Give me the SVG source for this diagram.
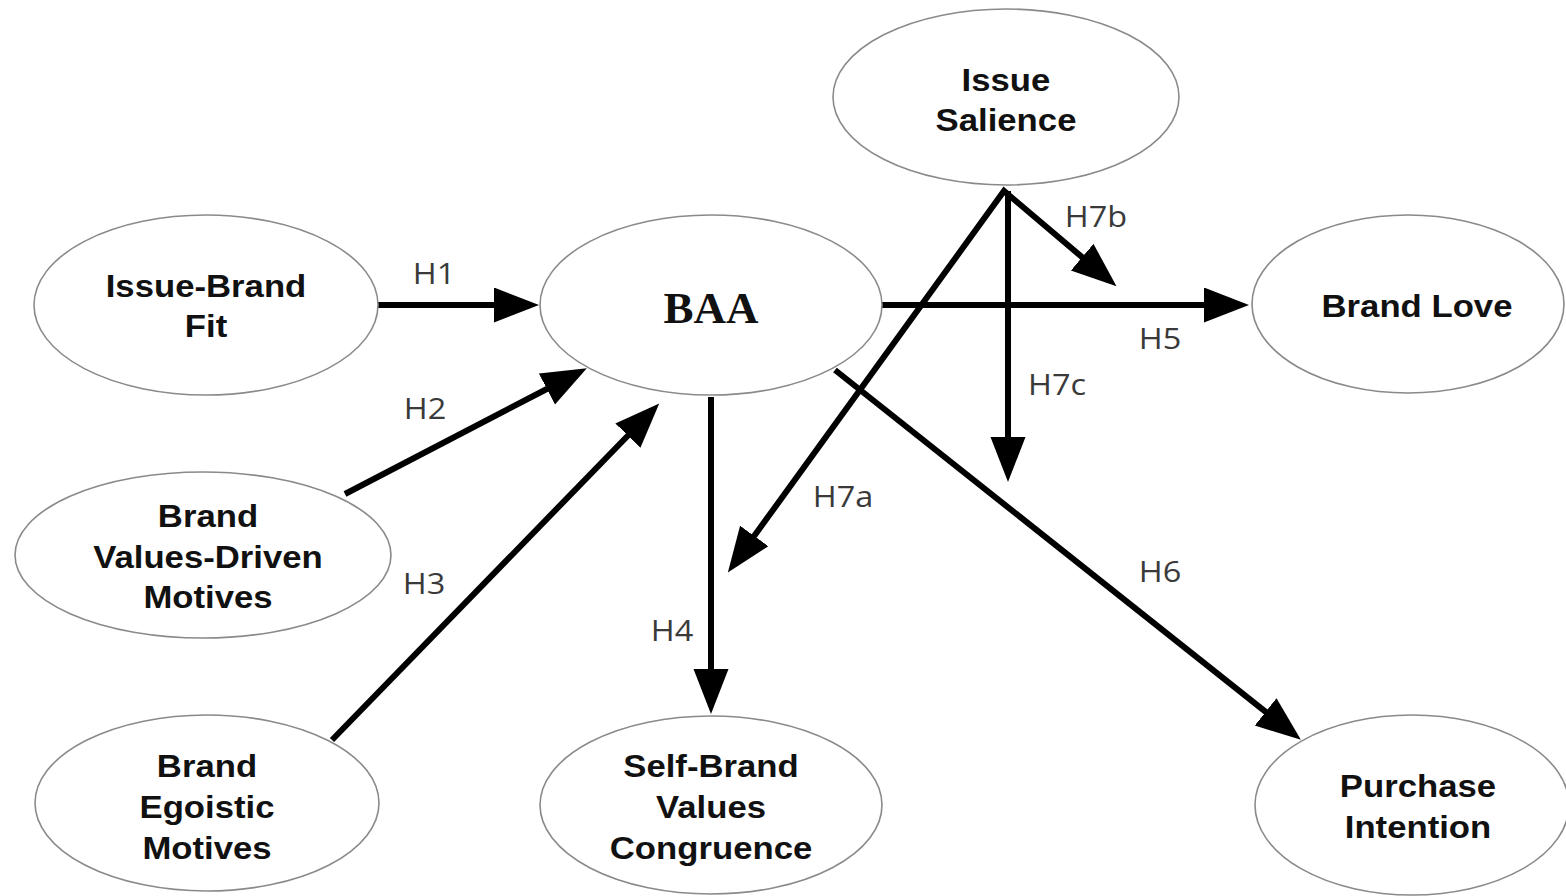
<svg xmlns="http://www.w3.org/2000/svg" width="1566" height="896" viewBox="0 0 1566 896">
<defs>
<style>
.node ellipse{fill:#fff;stroke:#8a8a8a;stroke-width:1.6}
.nt{font-family:"Liberation Sans",Arial,sans-serif;font-weight:bold;font-size:31px;fill:#111;text-anchor:middle}
.baa{font-family:"Liberation Serif","Times New Roman",serif;font-weight:bold;font-size:45px;fill:#111;text-anchor:middle}
.lbl{font-family:"Open Sans","DejaVu Sans",sans-serif;font-size:29px;fill:#3a3a3a;text-anchor:middle}
.edge{stroke:#000;stroke-width:6;fill:none;marker-end:url(#ah)}
.both{stroke:#000;stroke-width:6;fill:none;stroke-linejoin:miter;marker-start:url(#ah);marker-end:url(#ah)}
</style>
<marker id="ah" markerUnits="userSpaceOnUse" markerWidth="46" markerHeight="36" refX="26" refY="17.5" orient="auto-start-reverse" viewBox="0 0 46 36">
<path d="M0,0 L45,17.5 L0,35 Z" fill="#000"/>
</marker>
</defs>
<rect width="1566" height="896" fill="#fff"/>

<g id="connectors">
<!-- H1 -->
<line class="edge" x1="378" y1="305" x2="520" y2="305"/>
<!-- H2 -->
<line class="edge" x1="345" y1="494" x2="570" y2="377"/>
<!-- H3 -->
<line class="edge" x1="332" y1="740" x2="646" y2="417"/>
<!-- H4 -->
<line class="edge" x1="711" y1="397" x2="711" y2="695"/>
<!-- H5 -->
<line class="edge" x1="882" y1="305" x2="1230" y2="305"/>
<!-- H6 -->
<line class="edge" x1="835" y1="370" x2="1286" y2="728"/>
<!-- H7a and H7b (shared apex at Issue Salience) -->
<path class="both" d="M739,557 L1004,191 L1102,274"/>
<!-- H7c -->
<line class="edge" x1="1008" y1="191" x2="1008" y2="463"/>
</g>

<g id="labels">
<text class="lbl" transform="translate(434 284) scale(1.12 1)">H1</text>
<text class="lbl" transform="translate(425 419) scale(1.12 1)">H2</text>
<text class="lbl" transform="translate(424 594) scale(1.12 1)">H3</text>
<text class="lbl" transform="translate(672 641) scale(1.12 1)">H4</text>
<text class="lbl" transform="translate(1160 349) scale(1.12 1)">H5</text>
<text class="lbl" transform="translate(1160 582) scale(1.12 1)">H6</text>
<text class="lbl" transform="translate(843 507) scale(1.12 1)">H7a</text>
<text class="lbl" transform="translate(1096 227) scale(1.12 1)">H7b</text>
<text class="lbl" transform="translate(1057 395) scale(1.12 1)">H7c</text>
</g>

<g id="node-issue-brand-fit" class="node">
<ellipse cx="206" cy="305" rx="172" ry="90"/>
<g transform="translate(206 0) scale(1.12 1)">
<text class="nt" x="0" y="297">Issue-Brand</text>
<text class="nt" x="0" y="337">Fit</text>
</g>
</g>

<g id="node-baa" class="node">
<ellipse cx="711" cy="305" rx="171" ry="90"/>
<text class="baa" x="711" y="323">BAA</text>
</g>

<g id="node-issue-salience" class="node">
<ellipse cx="1006" cy="97" rx="173" ry="88"/>
<g transform="translate(1006 0) scale(1.12 1)">
<text class="nt" x="0" y="91">Issue</text>
<text class="nt" x="0" y="131">Salience</text>
</g>
</g>

<g id="node-brand-love" class="node">
<ellipse cx="1408" cy="304" rx="156" ry="89"/>
<g transform="translate(1417 0) scale(1.12 1)">
<text class="nt" x="0" y="317">Brand Love</text>
</g>
</g>

<g id="node-brand-values-driven-motives" class="node">
<ellipse cx="203" cy="555" rx="188" ry="83"/>
<g transform="translate(208 0) scale(1.12 1)">
<text class="nt" x="0" y="527">Brand</text>
<text class="nt" x="0" y="568">Values-Driven</text>
<text class="nt" x="0" y="608">Motives</text>
</g>
</g>

<g id="node-brand-egoistic-motives" class="node">
<ellipse cx="207" cy="803" rx="172" ry="88"/>
<g transform="translate(207 0) scale(1.12 1)">
<text class="nt" x="0" y="777">Brand</text>
<text class="nt" x="0" y="818">Egoistic</text>
<text class="nt" x="0" y="859">Motives</text>
</g>
</g>

<g id="node-self-brand-values-congruence" class="node">
<ellipse cx="711" cy="805" rx="171" ry="89"/>
<g transform="translate(711 0) scale(1.12 1)">
<text class="nt" x="0" y="777">Self-Brand</text>
<text class="nt" x="0" y="818">Values</text>
<text class="nt" x="0" y="859">Congruence</text>
</g>
</g>

<g id="node-purchase-intention" class="node">
<ellipse cx="1412" cy="805" rx="157" ry="90"/>
<g transform="translate(1418 0) scale(1.12 1)">
<text class="nt" x="0" y="797">Purchase</text>
<text class="nt" x="0" y="838">Intention</text>
</g>
</g>
</svg>
